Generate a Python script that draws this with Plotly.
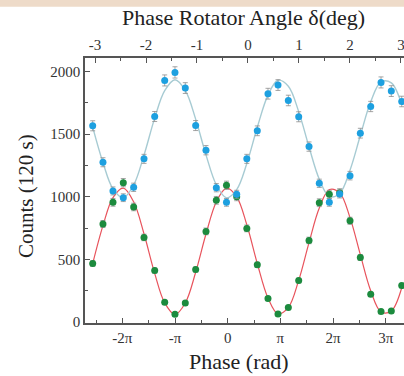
import plotly.graph_objects as go

# phase positions in units of pi
phase_pi = [-2.563, -2.368, -2.178, -1.982, -1.785, -1.589, -1.386, -1.196, -1.001, -0.805,
            -0.608, -0.412, -0.216, -0.023, 0.171, 0.363, 0.562, 0.765, 0.955, 1.151,
            1.348, 1.544, 1.739, 1.929, 2.126, 2.322, 2.518, 2.715, 2.911, 3.106, 3.304]

blue_counts = [1566, 1275, 1046, 992, 1075, 1302, 1640, 1928, 1992, 1867,
               1568, 1371, 1072, 955, 1019, 1302, 1526, 1822, 1891, 1768,
               1638, 1400, 1107, 955, 1022, 1168, 1507, 1720, 1912, 1843, 1760]
blue_err = [40, 36, 32, 31, 33, 36, 40, 44, 45, 43, 40, 37, 33, 31, 32, 36, 39, 43, 43, 42,
            40, 37, 33, 31, 32, 34, 39, 41, 44, 43, 42]
blue_fit = [1555, 1272, 1062, 991, 1094, 1332, 1627, 1847, 1934, 1848,
            1619, 1334, 1095, 991, 1057, 1265, 1554, 1811, 1929, 1882,
            1679, 1397, 1140, 1002, 1026, 1212, 1488, 1757, 1916, 1908, 1735]

green_counts = [467, 782, 955, 1112, 918, 675, 411, 158, 62, 152,
                419, 723, 971, 1091, 1000, 747, 456, 187, 64, 115,
                331, 651, 952, 1019, 1032, 808, 515, 222, 83, 88, 291]
green_err = [22, 28, 31, 33, 30, 26, 20, 13, 8, 12, 20, 27, 31, 33, 32, 27, 21, 14, 8, 11,
             18, 26, 31, 32, 32, 28, 23, 15, 9, 9, 17]
red_fit = [466, 769, 993, 1069, 959, 704, 388, 153, 60, 152,
           397, 702, 958, 1068, 999, 776, 467, 191, 65, 116,
           333, 634, 909, 1057, 1031, 833, 537, 249, 80, 88, 273]

phase_ticks = [-2, -1, 0, 1, 2, 3]
phase_labels = ["-2π", "-π", "0", "π", "2π", "3π"]
deg_ticks = [-3, -2, -1, 0, 1, 2, 3]
deg_labels = ["-3", "-2", "-1", "0", "1", "2", "3"]
count_ticks = [0, 500, 1000, 1500, 2000]

FONT = "Liberation Serif"
AX = "#555555"

fig = go.Figure()
fig.add_trace(go.Scatter(x=phase_pi, y=red_fit, mode="lines", line=dict(color="#E8535C", width=1.2, shape="spline"),
                         showlegend=False, hoverinfo="skip"))
fig.add_trace(go.Scatter(x=phase_pi, y=blue_fit, mode="lines", line=dict(color="#A7CBD3", width=1.4, shape="spline"),
                         showlegend=False, hoverinfo="skip"))
fig.add_trace(go.Scatter(x=phase_pi, y=green_counts, mode="markers",
                         marker=dict(color="#1C8B3E", size=7),
                         error_y=dict(type="data", array=green_err, color="#8E8E8E", thickness=0.8, width=2.5),
                         showlegend=False))
fig.add_trace(go.Scatter(x=phase_pi, y=blue_counts, mode="markers",
                         marker=dict(color="#1DA0E0", size=7),
                         error_y=dict(type="data", array=blue_err, color="#8E8E8E", thickness=0.8, width=2.5),
                         showlegend=False))
# invisible trace to activate the top axis
fig.add_trace(go.Scatter(x=deg_ticks, y=[None] * len(deg_ticks), xaxis="x2", mode="markers",
                         showlegend=False, hoverinfo="skip"))

tickfont = dict(family=FONT, size=15, color="#333333")
fig.update_layout(
    width=404, height=376,
    margin=dict(l=85, r=0, t=58, b=53),
    paper_bgcolor="white", plot_bgcolor="white",
    xaxis=dict(range=[-2.709, 3.347], tickvals=phase_ticks, ticktext=phase_labels,
               ticks="inside", ticklen=5, tickcolor=AX, showline=True, linecolor=AX, linewidth=1.5,
               showgrid=False, zeroline=False, tickfont=tickfont, ticklabeloverflow="allow",
               minor=dict(tickvals=[-2.5, -1.5, -0.5, 0.5, 1.5, 2.5], ticks="inside", ticklen=3, tickcolor=AX)),
    xaxis2=dict(overlaying="x", side="top", range=[-3.196, 3.059], tickvals=deg_ticks, ticktext=deg_labels,
                ticks="inside", ticklen=5, tickcolor=AX, showline=True, linecolor=AX, linewidth=1.5,
                showgrid=False, zeroline=False, tickfont=tickfont, ticklabeloverflow="allow",
                minor=dict(tickvals=[-2.5, -1.5, -0.5, 0.5, 1.5, 2.5], ticks="inside", ticklen=3, tickcolor=AX)),
    yaxis=dict(range=[-8, 2107], tickvals=count_ticks, ticks="inside", ticklen=5, tickcolor=AX,
               showline=True, linecolor=AX, linewidth=1.5, showgrid=False, zeroline=False, tickfont=tickfont,
               minor=dict(tickvals=[250, 750, 1250, 1750], ticks="inside", ticklen=3, tickcolor=AX)),
    shapes=[dict(type="rect", xref="paper", yref="paper", x0=-0.3, x1=1.05, y0=1.193, y1=1.3,
                 fillcolor="#EEDBC9", line=dict(width=0), layer="below")],
    annotations=[
        dict(text="Phase Rotator Angle δ(deg)", xref="paper", yref="paper", x=(243 - 85) / 319, y=1 + (58.3 - 18) / 264.4,
             showarrow=False, xanchor="center", yanchor="middle", font=dict(family=FONT, size=22, color="#222222")),
        dict(text="Phase (rad)", xref="paper", yref="paper", x=(239 - 85) / 319, y=-(361 - 322.7) / 264.4,
             showarrow=False, xanchor="center", yanchor="middle", font=dict(family=FONT, size=22, color="#222222")),
        dict(text="Counts (120 s)", xref="paper", yref="paper", x=-(85 - 26) / 319, y=(322.7 - 196) / 264.4,
             showarrow=False, xanchor="center", yanchor="middle", textangle=-90,
             font=dict(family=FONT, size=21, color="#222222")),
    ],
)
fig.write_html("out.html")
